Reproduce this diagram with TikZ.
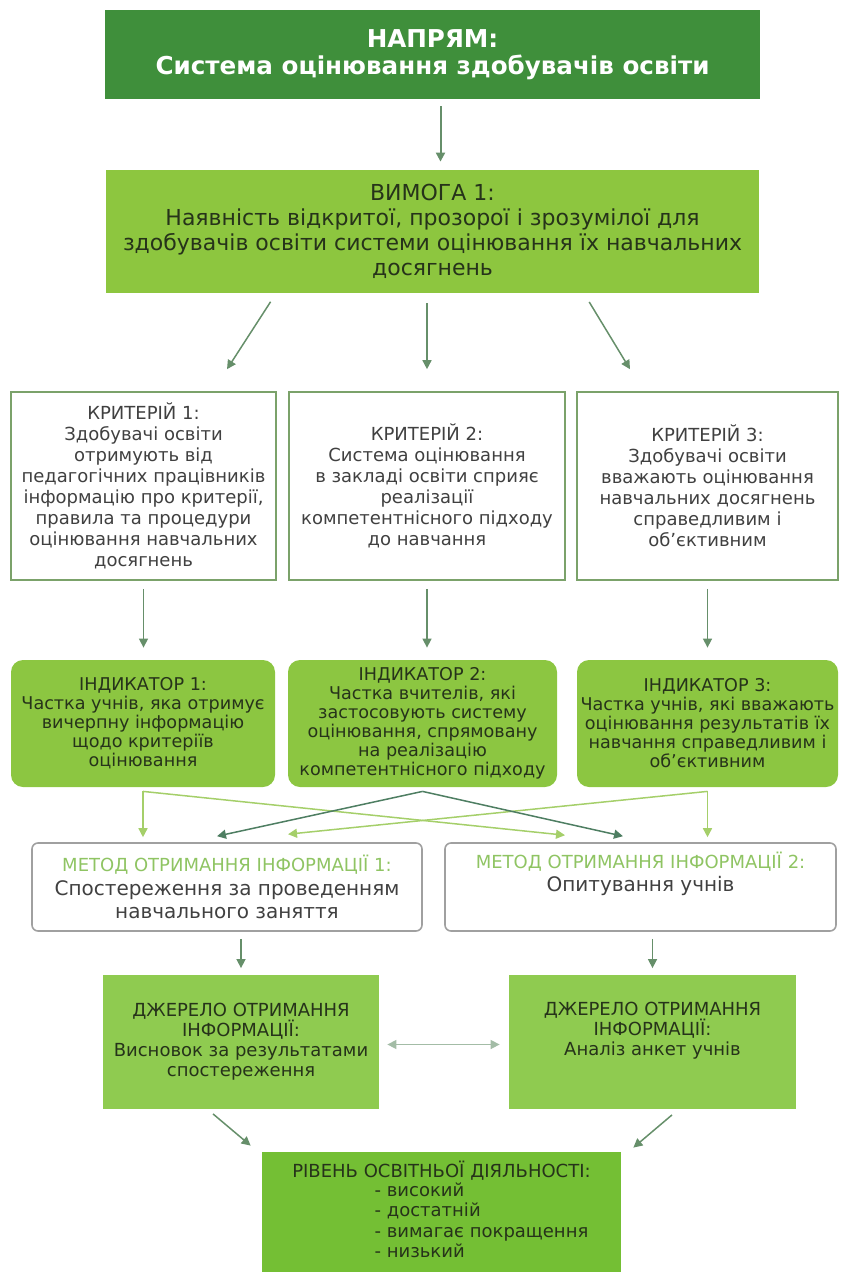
\documentclass[tikz,border=0pt]{standalone}
\usepackage{fontspec}
\setmainfont{DejaVu Sans}
\usetikzlibrary{calc}
\usetikzlibrary{arrows.meta}
\definecolor{napgreen}{HTML}{3F8F3B}
\definecolor{reqgreen}{HTML}{8DC63F}
\definecolor{indgreen}{HTML}{8CC641}
\definecolor{srcgreen}{HTML}{8FCB50}
\definecolor{lvlgreen}{HTML}{74BF34}
\definecolor{critline}{HTML}{7BA26A}
\definecolor{metline}{HTML}{A0A0A0}
\definecolor{mettitle}{HTML}{8FC463}
\definecolor{darktext}{HTML}{26331A}
\definecolor{graytext}{HTML}{404040}
\definecolor{arrgray}{HTML}{668F6A}
\definecolor{lightarrow}{HTML}{A5CF6A}
\definecolor{darkarrow}{HTML}{4E7E62}

\begin{document}
\begin{tikzpicture}[x=0.5pt, y=-0.5pt,
  box/.style={inner sep=0pt, align=center},
  napbox/.style={box, fill=napgreen, text=white, font=\fontsize{12.3}{13.5}\selectfont\bfseries},
  reqbox/.style={box, fill=reqgreen, text=darktext, font=\fontsize{11}{12.4}\selectfont},
  critbox/.style={box, draw=critline, line width=0.8pt, fill=white, text=graytext, font=\fontsize{9}{10.5}\selectfont},
  indbox/.style={box, fill=indgreen, rounded corners=6pt, text=darktext, font=\fontsize{8.8}{9.5}\selectfont},
  metbox/.style={box, draw=metline, line width=0.8pt, rounded corners=3pt, text=graytext, font=\fontsize{10}{11.75}\selectfont},
  srcbox/.style={box, fill=srcgreen, text=darktext, font=\fontsize{9}{10}\selectfont},
  lvlbox/.style={box, fill=lvlgreen, text=darktext, font=\fontsize{9}{10.25}\selectfont},
  arr/.style={draw=arrgray, line width=0.75pt, -{Triangle[length=4.5pt,width=4.5pt]}},
  lightarr/.style={arr, draw=lightarrow, fill=lightarrow},
  darkarr/.style={arr, draw=darkarrow, fill=darkarrow},
  duoarr/.style={arr, draw=arrgray!60, {Triangle[length=4.5pt,width=4.5pt]}-{Triangle[length=4.5pt,width=4.5pt]}}
]
\useasboundingbox (0,0) rectangle (843,1272);

\node[napbox, minimum width=327.5pt, minimum height=44.5pt] (napr) at (432.5,54.5) {НАПРЯМ:\\Система оцінювання здобувачів освіти};
\node[reqbox, minimum width=326.5pt, minimum height=61.5pt] (vym) at (432.5,231.5) {ВИМОГА 1:\\Наявність відкритої, прозорої і зрозумілої для\\здобувачів освіти системи оцінювання їх навчальних\\досягнень};

\node[critbox, minimum width=132.5pt, minimum height=94pt] (krit1) at (143.5,486) {КРИТЕРІЙ 1:\\Здобувачі освіти\\отримують від\\педагогічних працівників\\інформацію про критерії,\\правила та процедури\\оцінювання навчальних\\досягнень};
\node[critbox, minimum width=138pt, minimum height=94pt] (krit2) at (427,486) {КРИТЕРІЙ 2:\\Система оцінювання\\в закладі освіти сприяє\\реалізації\\компетентнісного підходу\\до навчання};
\node[critbox, minimum width=130.5pt, minimum height=94pt] (krit3) at (707.5,486) {КРИТЕРІЙ 3:\\Здобувачі освіти\\вважають оцінювання\\навчальних досягнень\\справедливим і\\об’єктивним};

\node[indbox, minimum width=132pt, minimum height=63.5pt] (ind1) at (143,723.5) {ІНДИКАТОР 1:\\Частка учнів, яка отримує\\вичерпну інформацію\\щодо критеріїв\\оцінювання};
\node[indbox, minimum width=134.5pt, minimum height=63.5pt] (ind2) at (422.5,723.5) {ІНДИКАТОР 2:\\Частка вчителів, які\\застосовують систему\\оцінювання, спрямовану\\на реалізацію\\компетентнісного підходу};
\node[indbox, minimum width=130.5pt, minimum height=63.5pt] (ind3) at (707.5,723.5) {ІНДИКАТОР 3:\\Частка учнів, які вважають\\оцінювання результатів їх\\навчання справедливим і\\об’єктивним};

\node[metbox, minimum width=195pt, minimum height=44pt] (met1) at (227,887) {{\fontsize{9}{11.75}\selectfont\color{mettitle}МЕТОД ОТРИМАННЯ ІНФОРМАЦІЇ 1:}\\Спостереження за проведенням\\навчального заняття};
\node[metbox, minimum width=195.5pt, minimum height=44pt] (met2) at (640.5,887) {{\fontsize{9}{11.75}\selectfont\color{mettitle}МЕТОД ОТРИМАННЯ ІНФОРМАЦІЇ 2:}\\Опитування учнів\\\strut};

\node[srcbox, minimum width=138pt, minimum height=67pt] (dzh1) at (241,1041.5) {ДЖЕРЕЛО ОТРИМАННЯ\\ІНФОРМАЦІЇ:\\Висновок за результатами\\спостереження};
\node[srcbox, minimum width=143.5pt, minimum height=67pt] (dzh2) at (652.5,1041.5) {ДЖЕРЕЛО ОТРИМАННЯ\\ІНФОРМАЦІЇ:\\Аналіз анкет учнів\\\strut};

\node[lvlbox, minimum width=179.5pt, minimum height=60.5pt] (riv) at (441.5,1212.5) {РІВЕНЬ ОСВІТНЬОЇ ДІЯЛЬНОСТІ:\\\hspace*{40pt}\begin{tabular}{@{}l@{}}- високий\\- достатній\\- вимагає покращення\\- низький\end{tabular}};

\draw[arr, line width=1pt, shorten <=3.5pt, shorten >=4pt] ([xshift=4pt]napr.south) -- ([xshift=4pt]vym.north);
\draw[arr, shorten <=5pt] ([xshift=-78.25pt]vym.south) -- ([xshift=41.75pt,yshift=11pt]krit1.north);
\draw[arr, shorten <=5pt, shorten >=11pt] (vym.south -| krit2.north) -- (krit2.north);
\draw[arr, shorten <=5pt] ([xshift=75.75pt]vym.south) -- ([xshift=-38.75pt,yshift=11pt]krit3.north);
\foreach \i in {1,2,3}
  \draw[arr, shorten <=4pt, shorten >=6pt] (krit\i.south) -- (krit\i.south |- ind\i.north);

\draw[lightarr, shorten >=2.5pt] ([yshift=-2pt]ind1.south) -- (ind1.south |- met1.north);
\draw[lightarr] ([yshift=-2pt]ind1.south) -- ([xshift=-37.75pt,yshift=3.5pt]met2.north);
\draw[lightarr, shorten >=2.5pt] ([yshift=-2pt]ind3.south) -- (ind3.south |- met2.north);
\draw[lightarr] ([yshift=-2pt]ind3.south) -- ([xshift=30.5pt,yshift=4pt]met1.north);
\draw[darkarr] ([yshift=-2pt]ind2.south) -- ([xshift=-5pt,yshift=3pt]met1.north);
\draw[darkarr] ([yshift=-2pt]ind2.south) -- ([xshift=-8.75pt,yshift=3pt]met2.north);

\draw[arr, shorten <=3.5pt, shorten >=3pt] (met1.south -| dzh1.north) -- (dzh1.north);
\draw[arr, shorten <=3.5pt, shorten >=3pt] (met2.south -| dzh2.north) -- (dzh2.north);
\draw[duoarr, shorten <=4pt, shorten >=4.5pt] ([yshift=-1.5pt]dzh1.east) -- ([yshift=-1.5pt]dzh2.west);
\draw[arr] ([xshift=-14pt,yshift=-2.5pt]dzh1.south) -- ([xshift=-5.5pt,yshift=3pt]riv.north west);
\draw[arr] ([xshift=9.75pt,yshift=-3pt]dzh2.south) -- ([xshift=6pt,yshift=2pt]riv.north east);
\end{tikzpicture}
\end{document}
